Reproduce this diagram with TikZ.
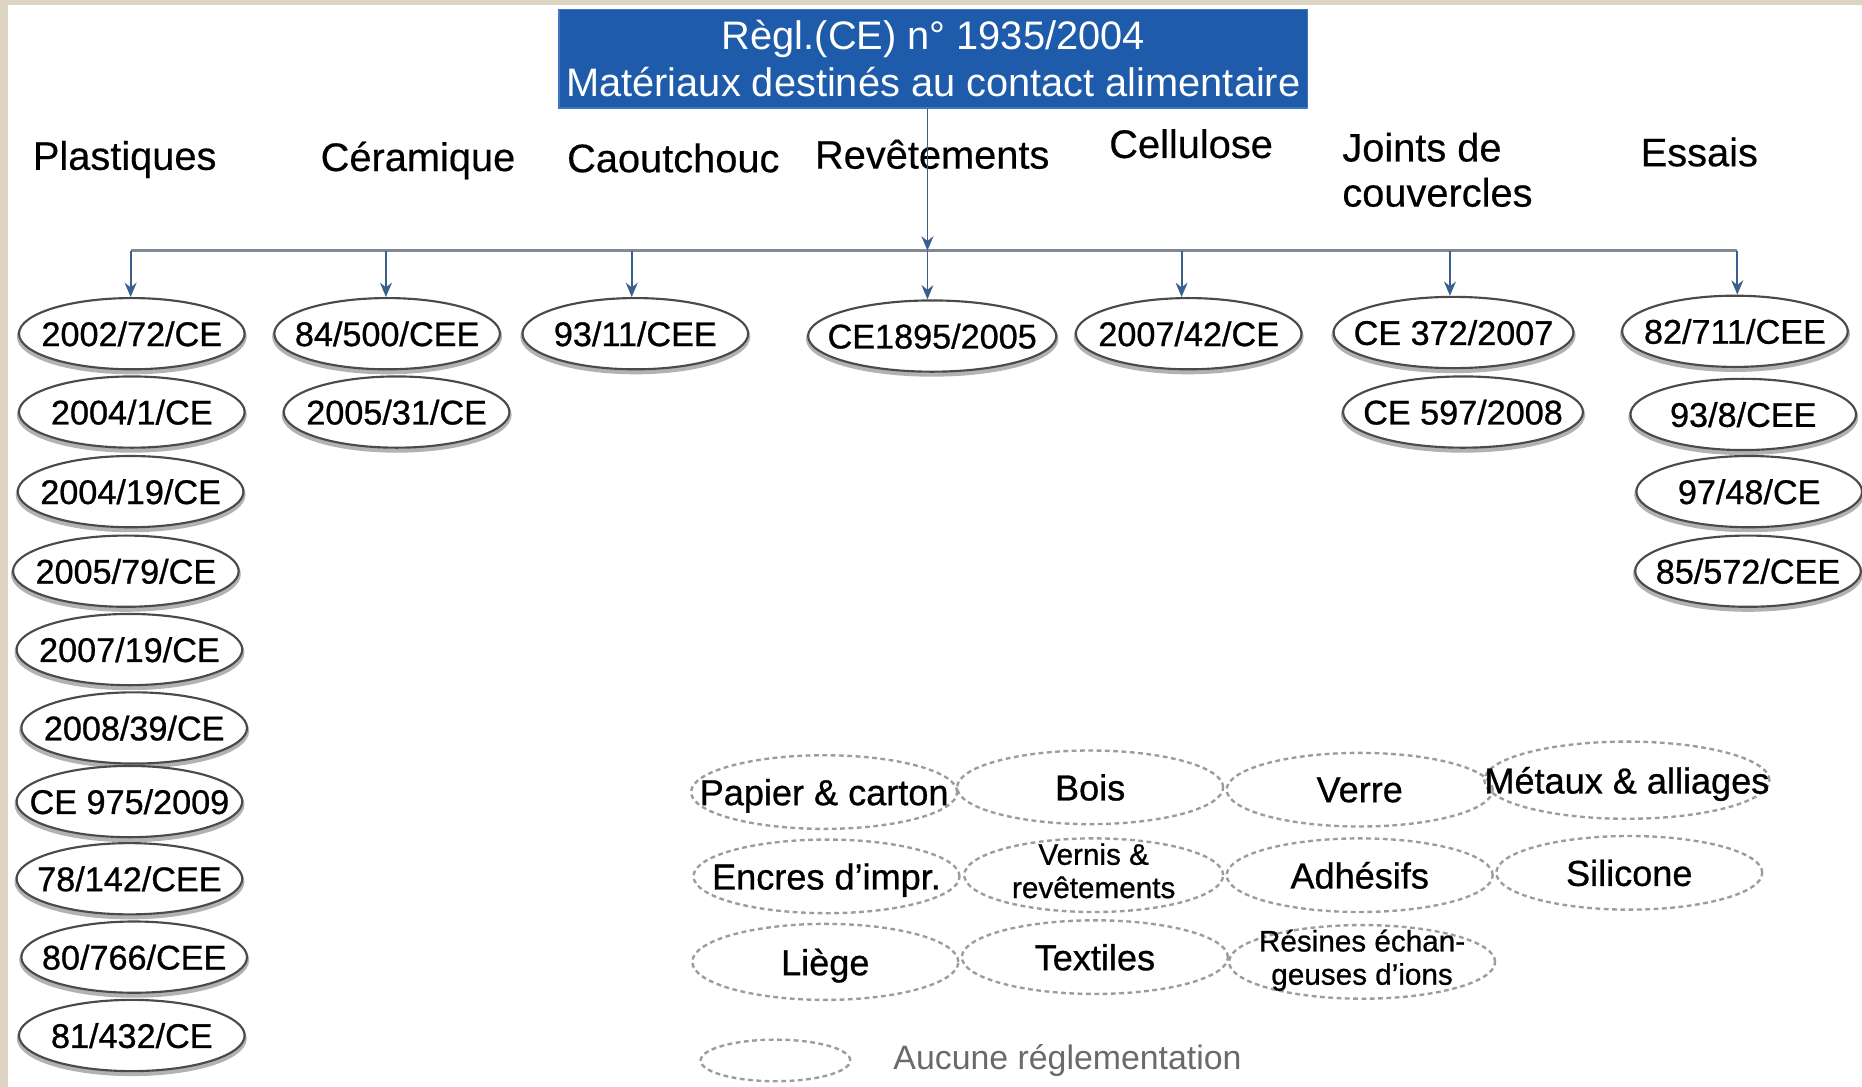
\documentclass[tikz,border=0pt]{standalone}
\usepackage{fontspec}
\setmainfont{Liberation Sans}
\newfontfamily\heavyfont[FakeBold=0.8]{Liberation Sans}
\newfontfamily\midfont[FakeBold=0.4]{Liberation Sans}
\usetikzlibrary{shapes.geometric,arrows.meta}
\definecolor{beige}{HTML}{DDD4C4}
\definecolor{boxblue}{HTML}{1E5BAA}
\definecolor{boxedge}{HTML}{3F78C0}
\definecolor{busgray}{HTML}{7E8A97}
\definecolor{arrblue}{HTML}{3A5F8C}
\definecolor{ellline}{HTML}{4A4A4A}
\definecolor{dashgray}{HTML}{9C9C9C}
\definecolor{legtext}{HTML}{6A6A6A}
\newcommand{\zw}[1]{\makebox[0pt]{\raisebox{0pt}[\height][0pt]{#1}}}
\newcommand{\twol}[2]{\makebox[0pt]{\raisebox{-0.45em}{\smash{\begin{tabular}{@{}c@{}}#1\\#2\end{tabular}}}}}
\begin{document}
\begin{tikzpicture}[x=0.5pt,y=-0.5pt,
  catlabel/.style={anchor=base, inner sep=0pt, font=\midfont\fontsize{16.75}{19}\selectfont},
  regell/.style={ellipse, draw=ellline, line width=0.9pt, fill=white, inner sep=0pt,
    minimum width=95pt, minimum height=30pt, font=\heavyfont\fontsize{14.4}{17}\selectfont,
    preaction={draw=black!30, line width=1.8pt, transform canvas={yshift=-1.2pt}}},
  noregell/.style={ellipse, draw=dashgray, line width=1pt, dash pattern=on 2pt off 1.5pt,
    inner sep=0pt, minimum width=112pt, minimum height=31pt, font=\heavyfont\fontsize{15.2}{18}\selectfont},
  smalltxt/.style={font=\heavyfont\fontsize{12.5}{14}\selectfont},
  bus/.style={draw=busgray, line width=1.4pt},
  feed/.style={draw=arrblue, line width=0.8pt, -{Stealth[length=6pt,width=5pt]}}
]
% background frame
\fill[beige] (0,0) rectangle (1568,915);
\fill[white] (7,4) rectangle (1568,915);
\useasboundingbox (0,0) rectangle (1568,915);

% title box
\node[draw=boxedge, line width=0.8pt, fill=boxblue, text=white, minimum width=315pt, minimum height=41.5pt,
  inner sep=1pt, align=center, font=\fontsize{16.75}{20}\selectfont] (top) at (786,49.5)
  {Règl.(CE) n° 1935/2004\\Matériaux destinés au contact alimentaire};

% category labels
\node[catlabel] (cPla) at (105,143) {Plastiques};
\node[catlabel] (cCer) at (352,144) {Céramique};
\node[catlabel] (cCao) at (567,145) {Caoutchouc};
\node[catlabel] (cRev) at (785,142) {Revêtements};
\node[catlabel] (cCel) at (1003,133) {Cellulose};
\node[anchor=west, inner sep=0pt, align=left, font=\midfont\fontsize{16.75}{19}\selectfont] (cJoi) at (1130,143) {Joints de\\couvercles};
\node[catlabel] (cEss) at (1431,140) {Essais};

% regulated ellipses
\node[regell] (e1a) at (111,281) {\zw{2002/72/CE}};
\node[regell] (e1b) at (111,347) {\zw{2004/1/CE}};
\node[regell] (e1c) at (110,414) {\zw{2004/19/CE}};
\node[regell] (e1d) at (106,481) {\zw{2005/79/CE}};
\node[regell] (e1e) at (109,547) {\zw{2007/19/CE}};
\node[regell] (e1f) at (113,613) {\zw{2008/39/CE}};
\node[regell] (e1g) at (109,675) {\zw{CE 975/2009}};
\node[regell] (e1h) at (109,740) {\zw{78/142/CEE}};
\node[regell] (e1i) at (113,806) {\zw{80/766/CEE}};
\node[regell] (e1j) at (111,872) {\zw{81/432/CE}};

\node[regell] (e2a) at (326,281) {\zw{84/500/CEE}};
\node[regell] (e2b) at (334,347) {\zw{2005/31/CE}};

\node[regell] (e3a) at (535,281) {\zw{93/11/CEE}};

\node[regell, minimum width=104.5pt] (e4a) at (785,283) {\zw{CE1895/2005}};

\node[regell] (e5a) at (1001,281) {\zw{2007/42/CE}};

\node[regell, minimum width=101pt] (e6a) at (1224,280) {\zw{CE 372/2007}};
\node[regell, minimum width=101pt] (e6b) at (1232,347) {\zw{CE 597/2008}};

\node[regell] (e7a) at (1461,279) {\zw{82/711/CEE}};
\node[regell] (e7b) at (1468,349) {\zw{93/8/CEE}};
\node[regell] (e7c) at (1473,414) {\zw{97/48/CE}};
\node[regell] (e7d) at (1472,481) {\zw{85/572/CEE}};

% connectors
\coordinate (b1) at (110,211);
\coordinate (b2) at (325,211);
\coordinate (b3) at (532,211);
\coordinate (bm) at (781,211);
\coordinate (b5) at (995,211);
\coordinate (b6) at (1221,211);
\coordinate (b7) at (1463,211);
\draw[bus] (b1) -- (b7);
\draw[feed] (bm |- top.south) -- (bm);
\draw[feed] (b1) -- (b1 |- e1a.north);
\draw[feed] (b2) -- (b2 |- e2a.north);
\draw[feed] (b3) -- (b3 |- e3a.north);
\draw[feed] (bm) -- (bm |- e4a.north);
\draw[feed] (b5) -- (b5 |- e5a.north);
\draw[feed] (b6) -- (b6 |- e6a.north);
\draw[feed] (b7) -- (b7 |- e7a.north);

% non-regulated materials
\node[noregell] (d1) at (694,667) {\zw{Papier \& carton}};
\node[noregell] (d2) at (918,663) {\zw{Bois}};
\node[noregell] (d3) at (1145,665) {\zw{Verre}};
\node[noregell, minimum width=120pt, minimum height=32.5pt] (d4) at (1370,657) {\zw{Métaux \& alliages}};
\node[noregell] (d5) at (696,738) {\zw{Encres d’impr.}};
\node[noregell, minimum width=109pt, smalltxt] (d6) at (921,737) {\twol{Vernis \&}{revêtements}};
\node[noregell] (d7) at (1145,737) {\zw{Adhésifs}};
\node[noregell] (d8) at (1372,735) {\zw{Silicone}};
\node[noregell, minimum height=32pt] (d9) at (695,810) {\zw{Liège}};
\node[noregell] (d10) at (922,806) {\zw{Textiles}};
\node[noregell, smalltxt] (d11) at (1147,810) {\twol{Résines échan-}{geuses d’ions}};

% legend
\node[noregell, minimum width=63pt, minimum height=17.5pt] (leg) at (653,893) {};
\node[anchor=west, inner sep=0pt, text=legtext, font=\fontsize{14.25}{17}\selectfont] (legt) at (752,893) {Aucune réglementation};
\end{tikzpicture}
\end{document}
